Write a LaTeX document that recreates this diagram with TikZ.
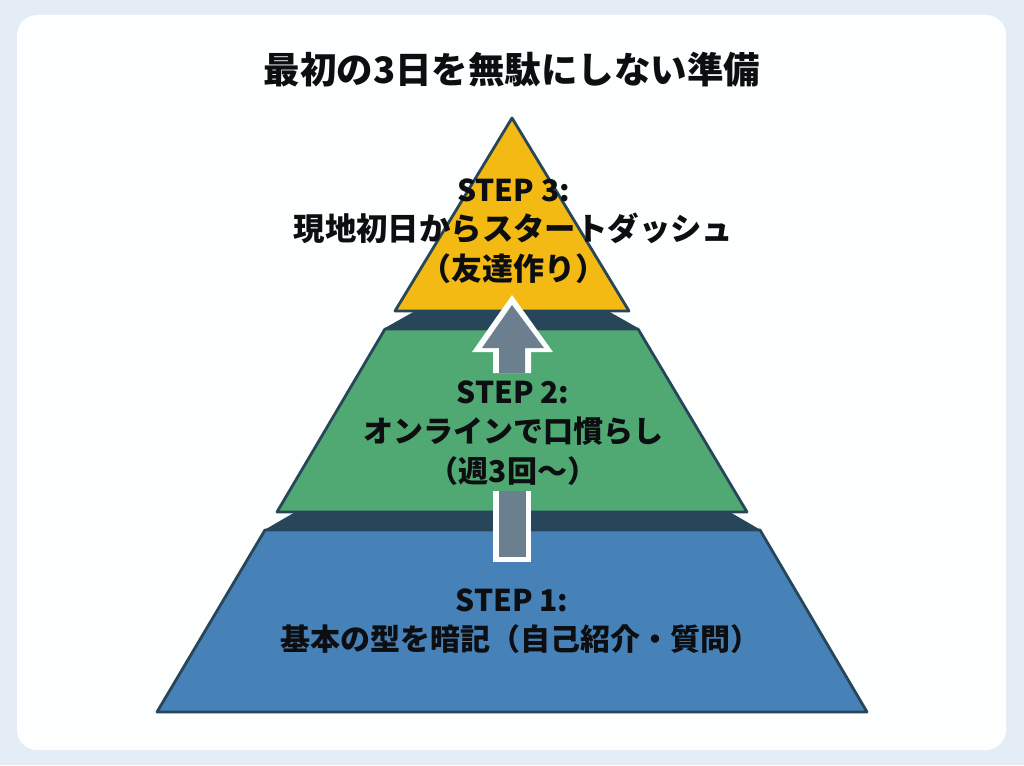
\documentclass[tikz,border=0pt]{standalone}
\usepackage{fontspec}
\setmainfont{Noto Sans CJK JP}
\definecolor{pagebg}{HTML}{E4EDF5}
\definecolor{cardbg}{HTML}{FDFEFE}
\definecolor{tierdark}{HTML}{27465A}
\definecolor{tieryellow}{HTML}{F2BA12}
\definecolor{tiergreen}{HTML}{50A872}
\definecolor{tierblue}{HTML}{4682B8}
\definecolor{arrowgray}{HTML}{6B7F8F}
\definecolor{textdark}{HTML}{0C0E11}
\tikzset{
  tier/.style={draw=tierdark, line width=2.8pt, line join=round},
  band/.style={fill=tierdark},
  arrowrim/.style={fill=cardbg},
  arrowcore/.style={fill=arrowgray},
  steplabel/.style={align=center, text=textdark, inner sep=0pt,
    font=\fontsize{30}{39.5}\selectfont\bfseries},
}
\begin{document}
\begin{tikzpicture}[x=1pt, y=-1pt]
  \useasboundingbox (0, 0) rectangle (1024, 765);
  \fill[pagebg] (0, 0) rectangle (1024, 765);
  \fill[cardbg, rounded corners=20pt] (17, 15) rectangle (1006, 750);

  % shadow bands under each upper tier
  \fill[band] (415, 311) -- (385, 328) -- (638, 328) -- (608, 311) -- cycle;
  \fill[band] (297, 511) -- (266, 529) -- (759, 529) -- (728, 511) -- cycle;

  \draw[tier, fill=tierblue] (265, 530) -- (760, 530) -- (867, 712) -- (157, 712) -- cycle;
  \draw[tier, fill=tiergreen] (385, 329) -- (638, 329) -- (747, 512) -- (277, 512) -- cycle;
  \draw[tier, fill=tieryellow] (512, 118) -- (629, 311) -- (395, 311) -- cycle;

  % arrow, broken behind the step 2 text
  \fill[arrowrim] (512, 295) -- (553, 352) -- (531, 352) -- (531, 373) -- (493, 373) -- (493, 352) -- (472, 352) -- cycle;
  \fill[arrowcore] (512, 305) -- (544, 348) -- (525, 348) -- (525, 373) -- (499, 373) -- (499, 348) -- (482, 348) -- cycle;
  \fill[arrowrim] (493, 491) rectangle (531, 562);
  \fill[arrowcore] (499, 491) rectangle (526, 557);

  \node[font=\fontsize{36.5}{44}\selectfont\bfseries, text=textdark, inner sep=0pt] (title) at (512, 70) {最初の3日を無駄にしない準備};
  \node[steplabel] (step3) at (513.5, 231) {STEP 3:\\{\fontsize{31.4}{39.5}\selectfont 現地初日からスタートダッシュ}\\{\fontsize{31}{39.5}\selectfont （友達作り）}};
  \node[steplabel] (step2) at (513, 433) {STEP 2:\\オンラインで口慣らし\\（週3回～）};
  \node[steplabel] (step1) at (512, 600) {STEP 1:};
  \node[steplabel] (step1text) at (520, 639) {基本の型を暗記（自己紹介・質問）};
\end{tikzpicture}
\end{document}
